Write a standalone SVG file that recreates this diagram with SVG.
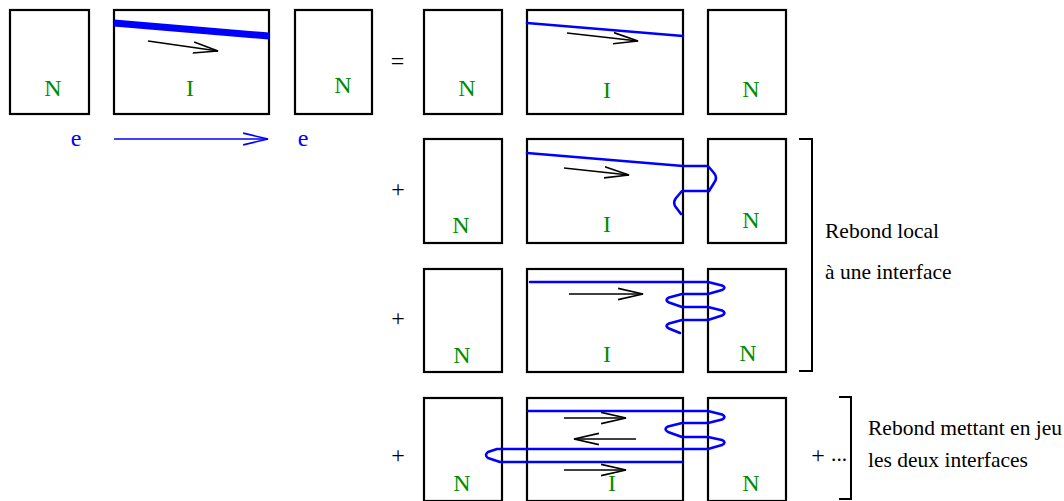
<svg xmlns="http://www.w3.org/2000/svg" width="1064" height="501" viewBox="0 0 1064 501">
<style>
.box{fill:none;stroke:#000;stroke-width:2.2}
.lbl{font-family:"Liberation Serif","Times New Roman",serif;font-size:24px;fill:#008c00;text-anchor:middle}
.e{font-family:"Liberation Serif","Times New Roman",serif;font-size:24px;fill:#0000ff;text-anchor:middle}
.op{font-family:"Liberation Serif","Times New Roman",serif;font-size:24px;fill:#000;text-anchor:middle}
.txt{font-family:"Liberation Serif","Times New Roman",serif;font-size:21.5px;fill:#000}
.path{fill:none;stroke:#0000ff;stroke-width:2.6;stroke-linejoin:round;stroke-linecap:round}
.arr{fill:none;stroke:#000;stroke-width:1.5;marker-end:url(#ha)}
.brk{fill:none;stroke:#000;stroke-width:2}
</style>
<defs>
<marker id="ha" markerUnits="userSpaceOnUse" markerWidth="26" markerHeight="14" viewBox="0 0 24 12" refX="23" refY="6" orient="auto">
<path d="M0,0.8 L23,6 L0,11.2" fill="none" stroke="#000" stroke-width="1.5"/>
</marker>
<marker id="hb" markerUnits="userSpaceOnUse" markerWidth="26" markerHeight="14" viewBox="0 0 24 12" refX="23" refY="6" orient="auto">
<path d="M0,0.6 L23,6 L0,11.4" fill="none" stroke="#0000ff" stroke-width="1.5"/>
</marker>
</defs>
<rect width="1064" height="501" fill="#fff"/>

<!-- Left side -->
<g id="n-left"><rect class="box" x="10" y="10" width="79" height="104"/><text class="lbl" x="53" y="96">N</text></g>
<g id="i-left"><rect class="box" x="114" y="10" width="155" height="104"/><text class="lbl" x="190" y="96">I</text></g>
<g id="n-right"><rect class="box" x="295" y="10" width="77" height="104"/><text class="lbl" x="343" y="93">N</text></g>
<text class="e" x="76" y="146">e</text>
<text class="e" x="303" y="146">e</text>
<text class="op" x="397.5" y="69">=</text>

<!-- Row 1 -->
<g id="r1-n1"><rect class="box" x="424" y="10" width="78" height="104"/><text class="lbl" x="467" y="96">N</text></g>
<g id="r1-i"><rect class="box" x="527" y="10" width="156" height="104"/><text class="lbl" x="607" y="98">I</text></g>
<g id="r1-n2"><rect class="box" x="708" y="10" width="78" height="104"/><text class="lbl" x="751" y="97">N</text></g>

<!-- Row 2 -->
<text class="op" x="398" y="197">+</text>
<g id="r2-n1"><rect class="box" x="424" y="139" width="78" height="104"/><text class="lbl" x="461" y="233">N</text></g>
<g id="r2-i"><rect class="box" x="527" y="139" width="156" height="104"/><text class="lbl" x="607" y="232">I</text></g>
<g id="r2-n2"><rect class="box" x="708" y="139" width="78" height="104"/><text class="lbl" x="751" y="228">N</text></g>

<!-- Row 3 -->
<text class="op" x="398" y="326">+</text>
<g id="r3-n1"><rect class="box" x="424" y="269" width="78" height="103"/><text class="lbl" x="462" y="363">N</text></g>
<g id="r3-i"><rect class="box" x="527" y="269" width="156" height="103"/><text class="lbl" x="607" y="362">I</text></g>
<g id="r3-n2"><rect class="box" x="708" y="269" width="78" height="103"/><text class="lbl" x="748" y="361">N</text></g>

<!-- Row 4 -->
<text class="op" x="398" y="463">+</text>
<g id="r4-n1"><rect class="box" x="424" y="398" width="78" height="103"/><text class="lbl" x="462" y="491">N</text></g>
<g id="r4-i"><rect class="box" x="527" y="398" width="156" height="103"/><text class="lbl" x="612" y="491">I</text></g>
<g id="r4-n2"><rect class="box" x="708" y="398" width="78" height="103"/><text class="lbl" x="751" y="491">N</text></g>

<g id="connectors">
<!-- left -->
<line x1="114" y1="23" x2="269" y2="36" stroke="#0000ff" stroke-width="7"/>
<line class="arr" x1="148" y1="41" x2="218" y2="51"/>
<line x1="114" y1="139" x2="268" y2="139" stroke="#0000ff" stroke-width="1.5" marker-end="url(#hb)"/>
<!-- row 1 -->
<line class="path" x1="527" y1="23" x2="683" y2="36"/>
<line class="arr" x1="567" y1="33" x2="638" y2="41"/>
<!-- row 2 -->
<path class="path" d="M527,153 L683,166 L708,166 L714,173 Q718,178 714,183 L709,191 L682,191 L676,198 Q673,202 675,206 L681,214"/>
<line class="arr" x1="564" y1="168" x2="629" y2="175"/>
<!-- row 3 -->
<path class="path" d="M530,282 H708 L722,285.5 Q727,287.5 722,290 L708,294 H682 L669,297.5 Q664,300 669,302.5 L682,307 H708 L722,310.5 Q727,313 722,315.5 L708,320 H682 L669,323.5 Q664,326 669,328.5 L680,333"/>
<line class="arr" x1="569" y1="294" x2="643" y2="294"/>
<!-- row 4 -->
<path class="path" d="M528,411 H708 L722,414.5 Q727,417 722,419.5 L708,423 H682 L668,426.5 Q663,429 668,432 L682,437 H708 L722,440 Q727,442.5 722,445 L708,449 H497 L488,452 Q484,455 488,458 L500,462 H682"/>
<line class="arr" x1="564" y1="418" x2="626" y2="418"/>
<line class="arr" x1="636" y1="439" x2="574" y2="439"/>
<line class="arr" x1="564" y1="470" x2="626" y2="470"/>
</g>

<!-- brackets and notes -->
<path class="brk" d="M799,139 H812 V371 H799"/>
<text class="txt" x="825" y="238">Rebond local</text>
<text class="txt" x="825" y="279">à une interface</text>
<path class="brk" d="M839,397 H851 V499 H839"/>
<text class="op" x="818" y="463">+</text>
<text class="txt" x="831" y="461">...</text>
<text class="txt" x="868" y="435">Rebond mettant en jeu</text>
<text class="txt" x="868" y="467">les deux interfaces</text>
</svg>
